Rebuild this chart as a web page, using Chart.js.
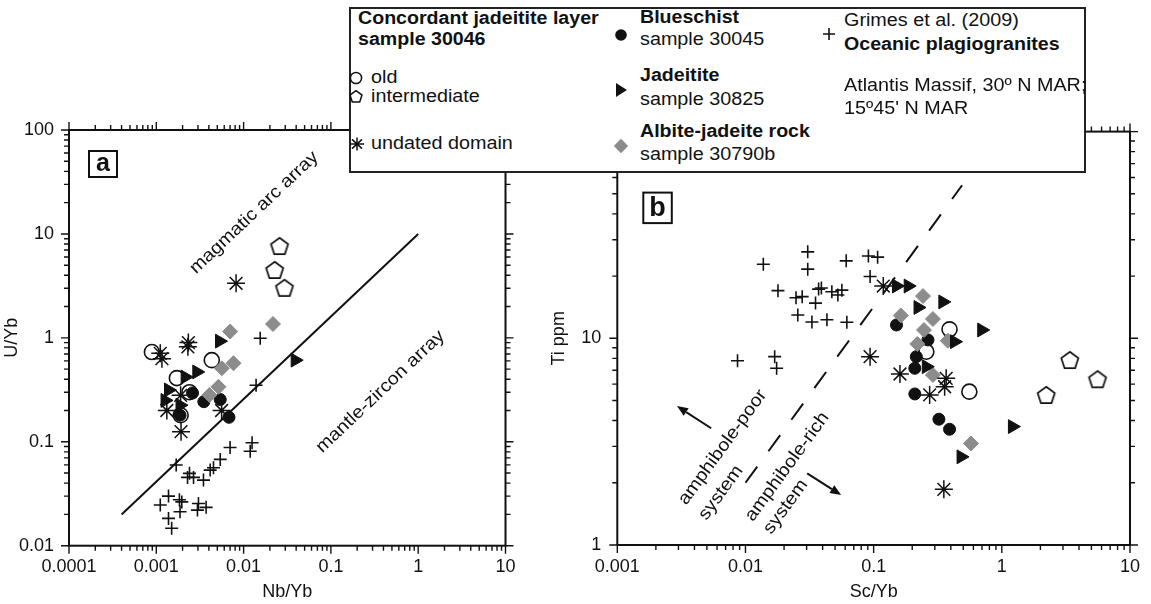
<!DOCTYPE html>
<html><head><meta charset="utf-8"><title>Zircon discrimination diagrams</title>
<script src="https://cdn.jsdelivr.net/npm/chart.js@4.4.1/dist/chart.umd.min.js"></script>
<style>
html,body{margin:0;padding:0;background:#fff;}
body{width:1151px;height:604px;position:relative;overflow:hidden;font-family:"Liberation Sans",Arial,Helvetica,sans-serif;color:#111;}
#wa{position:absolute;left:0;top:0;width:548px;height:604px;}
#wb{position:absolute;left:548px;top:0;width:603px;height:604px;}
canvas{display:block;}
#legend{position:absolute;left:349px;top:7px;width:737px;height:166px;border:2px solid #222;background:#fff;box-sizing:border-box;z-index:5;}
.t{position:absolute;white-space:nowrap;font-size:17.5px;line-height:1;transform:translateY(-50%) scaleX(1.13);transform-origin:0 50%;}
.b{font-weight:bold;transform:translateY(-50%) scaleX(1.12);}
.ic{position:absolute;overflow:visible;}
</style></head>
<body>
<div id="wa"><canvas id="ca" width="548" height="604"></canvas></div>
<div id="wb"><canvas id="cb" width="603" height="604"></canvas></div>
<div id="legend">
  <span class="t b" style="left:7px;top:9.5px">Concordant jadeitite layer</span>
  <span class="t b" style="left:7px;top:31px">sample 30046</span>
  <svg class="ic" style="left:-3px;top:61px" width="16" height="16" viewBox="-8 -8 16 16"><circle r="5.6" fill="none" stroke="#111" stroke-width="1.5"/></svg>
  <span class="t" style="left:19.5px;top:69px">old</span>
  <svg class="ic" style="left:-3px;top:80px" width="16" height="16" viewBox="-8 -8 16 16"><polygon points="0,-6.3 6,-1.9 3.7,5.1 -3.7,5.1 -6,-1.9" fill="none" stroke="#111" stroke-width="1.5"/></svg>
  <span class="t" style="left:19.5px;top:88px">intermediate</span>
  <svg class="ic" style="left:-2.5px;top:127px" width="16" height="16" viewBox="-8 -8 16 16"><path d="M0,-6.5V6.5M-7,0H7M-5,-4.6L5,4.6M-5,4.6L5,-4.6" stroke="#111" stroke-width="1.5"/></svg>
  <span class="t" style="left:19.5px;top:135px">undated domain</span>

  <svg class="ic" style="left:262px;top:18px" width="16" height="16" viewBox="-8 -8 16 16"><circle r="5.8" fill="#111"/></svg>
  <span class="t b" style="left:288.5px;top:8.5px">Blueschist</span>
  <span class="t" style="left:288.5px;top:30.5px">sample 30045</span>
  <svg class="ic" style="left:262px;top:73px" width="16" height="16" viewBox="-8 -8 16 16"><polygon points="-5,-7 6,0 -5,7" fill="#111"/></svg>
  <span class="t b" style="left:288.5px;top:67px">Jadeitite</span>
  <span class="t" style="left:288.5px;top:90.5px">sample 30825</span>
  <svg class="ic" style="left:262px;top:129px" width="16" height="16" viewBox="-8 -8 16 16"><polygon points="0,-7.2 7.2,0 0,7.2 -7.2,0" fill="#8c8c8c"/></svg>
  <span class="t b" style="left:288.5px;top:123px">Albite-jadeite rock</span>
  <span class="t" style="left:288.5px;top:146px">sample 30790b</span>

  <svg class="ic" style="left:469.5px;top:16.5px" width="16" height="16" viewBox="-8 -8 16 16"><path d="M0,-6V6M-6,0H6" stroke="#111" stroke-width="1.6"/></svg>
  <span class="t" style="left:492.5px;top:12px">Grimes et al. (2009)</span>
  <span class="t b" style="left:492.5px;top:36px">Oceanic plagiogranites</span>
  <span class="t" style="left:492.5px;top:77px">Atlantis Massif, 30º N MAR;</span>
  <span class="t" style="left:492.5px;top:99.5px">15º45' N MAR</span>
</div>
<script>
// ================= DATA =================
// Panel a : U/Yb vs Nb/Yb
const xTicksA = [0.0001, 0.001, 0.01, 0.1, 1, 10];
const xLabelsA = ['0.0001', '0.001', '0.01', '0.1', '1', '10'];
const yTicksA = [0.01, 0.1, 1, 10, 100];
const yLabelsA = ['0.01', '0.1', '1', '10', '100'];

const aOld = [[0.00089,0.73],[0.00432,0.61],[0.00172,0.41],[0.0019,0.18],[0.0024,0.30]];
const aInter = [[0.0258,7.65],[0.0227,4.5],[0.0294,3.03]];
const aUndated = [[0.00111,0.71],[0.00116,0.63],[0.00233,0.90],[0.0023,0.82],[0.0082,3.35],[0.00192,0.125],[0.00132,0.20],[0.0056,0.20],[0.0019,0.28]];
const aBlue = [[0.0068,0.172],[0.0035,0.243],[0.0054,0.255],[0.00187,0.18],[0.0026,0.295]];
const aJade = [[0.0053,0.93],[0.039,0.61],[0.00291,0.47],[0.00214,0.42],[0.00138,0.315],[0.00126,0.25],[0.00187,0.225]];
const aAlb = [[0.00701,1.15],[0.0217,1.36],[0.00766,0.57],[0.00564,0.51],[0.00515,0.338],[0.00406,0.282]];
const aPlagio = [[0.0155,0.99],[0.0139,0.35],[0.0070,0.088],[0.0125,0.098],[0.0119,0.081],[0.0054,0.0677],[0.00452,0.0562],[0.00414,0.0534],[0.00169,0.0597],[0.0024,0.0497],[0.00228,0.0454],[0.00267,0.0454],[0.00347,0.0428],[0.00138,0.030],[0.00111,0.0246],[0.00184,0.0277],[0.00196,0.0264],[0.00187,0.0212],[0.00304,0.0255],[0.00372,0.0234],[0.00296,0.022],[0.00138,0.0183],[0.0015,0.0147]];
const aLine = [[0.0004,0.02],[1,10]];
const aNotes = [{text:'magmatic arc array', at:[0.01325,16.0]}, {text:'mantle-zircon array', at:[0.369,0.303]}];

// Panel b : Ti ppm vs Sc/Yb
const xTicksB = [0.001, 0.01, 0.1, 1, 10];
const xLabelsB = ['0.001', '0.01', '0.1', '1', '10'];
const yTicksB = [1, 10, 100];
const yLabelsB = ['1', '10', '100'];

const bOld = [[0.558,5.52],[0.391,11.05],[0.2576,8.61]];
const bInter = [[3.39,7.85],[5.58,6.34],[2.22,5.32]];
const bUndated = [[0.0938,8.15],[0.1189,17.9],[0.1604,6.72],[0.2735,5.32],[0.368,6.4],[0.358,5.83],[0.353,1.86]];
const bBlue = [[0.1507,11.6],[0.2095,7.16],[0.2095,5.38],[0.323,4.06],[0.391,3.63],[0.2153,8.15],[0.2655,9.82]];
const bJade = [[0.1507,17.9],[0.186,17.9],[0.222,14.1],[0.3467,15.0],[0.4276,9.63],[0.697,10.97],[0.2576,7.29],[1.21,3.74],[0.481,2.67]];
const bAlb = [[0.2427,16.0],[0.163,12.9],[0.29,12.4],[0.247,10.97],[0.2193,9.39],[0.29,6.65],[0.575,3.10],[0.379,9.73]];
const bPlagio = [[0.01378,22.8],[0.0306,26.2],[0.0306,21.6],[0.0611,23.7],[0.091,25.0],[0.1074,24.7],[0.0938,19.9],[0.01793,17.0],[0.0248,15.7],[0.0277,15.9],[0.0352,14.8],[0.0372,17.3],[0.0391,17.5],[0.0472,16.8],[0.0526,16.2],[0.0565,17.1],[0.0256,12.97],[0.033,12.0],[0.0432,12.3],[0.0618,11.95],[0.00867,7.79],[0.0169,8.15],[0.0175,7.16]];
const bLine = [[0.01,2],[0.49,55]];
const bArrows = [[[0.0054,3.67],[0.00292,4.70]], [[0.0303,2.22],[0.0558,1.746]]];
const bNotes = [{text:'amphibole-poor', at:[0.00664,2.97]}, {text:'system', at:[0.00644,1.79]},
                {text:'amphibole-rich', at:[0.0212,2.39]}, {text:'system', at:[0.0206,1.53]}];

// ================= DRAWING =================
const INK = '#111';
const GREY = '#8c8c8c';
const FONT = '"Liberation Sans", Arial, Helvetica, sans-serif';
Chart.defaults.font.family = FONT;
Chart.defaults.font.size = 18;
Chart.defaults.color = INK;

const toXY = arr => arr.map(p => ({x: p[0], y: p[1]}));

function pentagonImage() {
  const c = document.createElement('canvas');
  c.width = 22; c.height = 22;
  const g = c.getContext('2d');
  g.strokeStyle = INK; g.lineWidth = 1.7;
  g.beginPath();
  for (let i = 0; i < 5; i++) {
    const a = -Math.PI / 2 + i * 2 * Math.PI / 5;
    const x = 11 + 9 * Math.cos(a), y = 11.8 + 9 * Math.sin(a);
    if (i === 0) g.moveTo(x, y); else g.lineTo(x, y);
  }
  g.closePath(); g.stroke();
  return c;
}
const PENT = pentagonImage();

function markMarks(min, max) {
  const out = [];
  const e0 = Math.round(Math.log10(min)), e1 = Math.round(Math.log10(max));
  for (let e = e0; e < e1; e++) {
    for (let m = 1; m <= 9; m++) out.push({v: m * Math.pow(10, e), major: m === 1});
  }
  out.push({v: max, major: true});
  return out;
}

const framePlugin = {
  id: 'frame',
  afterDraw(chart) {
    const {ctx, chartArea: a, scales: {x, y}} = chart;
    ctx.save();
    ctx.strokeStyle = INK;
    ctx.lineWidth = 1.4;
    ctx.beginPath();
    for (const t of markMarks(x.min, x.max)) {
      const p = x.getPixelForValue(t.v), L = t.major ? 8 : 5;
      ctx.moveTo(p, a.bottom); ctx.lineTo(p, a.bottom + L);
      ctx.moveTo(p, a.top); ctx.lineTo(p, a.top - L);
    }
    for (const t of markMarks(y.min, y.max)) {
      const p = y.getPixelForValue(t.v), L = t.major ? 8 : 5;
      ctx.moveTo(a.left - L, p); ctx.lineTo(a.left, p);
      ctx.moveTo(a.right, p); ctx.lineTo(a.right + L, p);
    }
    ctx.stroke();
    ctx.lineWidth = 2;
    ctx.strokeRect(a.left, a.top, a.right - a.left, a.bottom - a.top);
    ctx.restore();
  }
};

const notesPlugin = {
  id: 'notes',
  afterDatasetsDraw(chart, args, o) {
    const {ctx, chartArea: a, scales: {x, y}} = chart;
    const px = p => [x.getPixelForValue(p[0]), y.getPixelForValue(p[1])];
    ctx.save();
    ctx.fillStyle = INK; ctx.strokeStyle = INK;
    ctx.font = '18px ' + FONT;
    ctx.textAlign = 'center'; ctx.textBaseline = 'middle';
    const [d0x, d0y] = px(o.dir[0]), [d1x, d1y] = px(o.dir[1]);
    const ang = Math.atan2(d1y - d0y, d1x - d0x);
    for (const t of o.texts) {
      const [cx, cy] = px(t.at);
      ctx.save(); ctx.translate(cx, cy); ctx.rotate(ang); ctx.scale(1.1, 1); ctx.fillText(t.text, 0, 0); ctx.restore();
    }
    ctx.lineWidth = 2;
    for (const ar of (o.arrows || [])) {
      const [tx, ty] = px(ar[0]), [hx, hy] = px(ar[1]);
      const an = Math.atan2(hy - ty, hx - tx);
      const bx = hx - 11 * Math.cos(an), by = hy - 11 * Math.sin(an);
      ctx.beginPath(); ctx.moveTo(tx, ty); ctx.lineTo(bx, by); ctx.stroke();
      ctx.beginPath();
      ctx.moveTo(hx, hy);
      ctx.lineTo(bx + 4.5 * Math.sin(an), by - 4.5 * Math.cos(an));
      ctx.lineTo(bx - 4.5 * Math.sin(an), by + 4.5 * Math.cos(an));
      ctx.closePath(); ctx.fill();
    }
    const g = o.tag;
    const bx = a.left + g.dx, by = a.top + g.dy;
    ctx.lineWidth = 2;
    ctx.fillStyle = '#fff';
    ctx.fillRect(bx, by, g.w, g.h);
    ctx.strokeRect(bx, by, g.w, g.h);
    ctx.fillStyle = INK;
    ctx.font = 'bold ' + g.size + 'px ' + FONT;
    ctx.textBaseline = 'alphabetic';
    ctx.fillText(g.text, bx + g.w / 2, by + g.h - g.base);
    ctx.restore();
  }
};

function sets(d) {
  return [
    {label: 'intermediate', data: toXY(d.inter), pointStyle: PENT, pointRadius: 9},
    {label: 'undated domain', data: toXY(d.undated), pointStyle: 'star', pointRadius: 9, borderColor: INK, borderWidth: 1.5},
    {label: 'Jadeitite', data: toXY(d.jade), pointStyle: 'triangle', rotation: 90, pointRadius: 8, backgroundColor: INK, borderColor: INK, borderWidth: 1},
    {label: 'Albite-jadeite rock', data: toXY(d.alb), pointStyle: 'rectRot', pointRadius: 7.5, backgroundColor: GREY, borderColor: GREY, borderWidth: 1},
    {label: 'old', data: toXY(d.old), pointStyle: 'circle', pointRadius: 7.5, backgroundColor: 'rgba(0,0,0,0)', borderColor: INK, borderWidth: 1.6},
    {label: 'Blueschist', data: toXY(d.blue), pointStyle: 'circle', pointRadius: 6, backgroundColor: INK, borderColor: INK, borderWidth: 1},
    {label: 'Oceanic plagiogranites', data: toXY(d.plagio), pointStyle: 'cross', pointRadius: 6.5, borderColor: INK, borderWidth: 1.6},
    {label: 'array', data: toXY(d.line), showLine: true, pointRadius: 0, borderColor: INK, borderWidth: 2, borderDash: d.dash || [], fill: false}
  ];
}

function makeChart(id, d) {
  const setTicks = (vals) => (s) => { s.ticks = vals.map(v => ({value: v})); };
  return new Chart(document.getElementById(id), {
    type: 'scatter',
    data: {datasets: sets(d)},
    options: {
      responsive: false, animation: false, devicePixelRatio: 1,
      events: [],
      layout: {padding: {top: d.top, right: d.right, left: 0, bottom: 0}},
      plugins: {legend: {display: false}, tooltip: {enabled: false},
                notes: {texts: d.notes, dir: d.line, arrows: d.arrows, tag: d.tag}},
      scales: {
        x: {type: 'logarithmic', position: 'bottom', min: d.xTicks[0], max: d.xTicks[d.xTicks.length - 1],
            afterBuildTicks: setTicks(d.xTicks),
            afterFit: s => { s.height = d.bottom; },
            grid: {display: false, drawTicks: false}, border: {display: false},
            ticks: {callback: (v, i) => d.xLabels[i], autoSkip: false, maxRotation: 0, padding: 11, font: {size: 18}},
            title: {display: true, text: d.xTitle, font: {size: 18}, padding: {top: 0, bottom: 1}}},
        y: {type: 'logarithmic', position: 'left', min: d.yTicks[0], max: d.yTicks[d.yTicks.length - 1],
            afterBuildTicks: setTicks(d.yTicks),
            afterFit: s => { s.width = d.left; },
            grid: {display: false, drawTicks: false}, border: {display: false},
            ticks: {callback: (v, i) => d.yLabels[i], autoSkip: false, padding: d.ypad, font: {size: 18}},
            title: {display: true, text: d.yTitle, font: {size: 18}, padding: {top: d.ytpad, bottom: 0}}}
      }
    },
    plugins: [framePlugin, notesPlugin]
  });
}

makeChart('ca', {
  inter: aInter, undated: aUndated, jade: aJade, alb: aAlb, old: aOld, blue: aBlue, plagio: aPlagio, line: aLine,
  xTicks: xTicksA, xLabels: xLabelsA, yTicks: yTicksA, yLabels: yLabelsA,
  xTitle: 'Nb/Yb', yTitle: 'U/Yb', notes: aNotes, arrows: [],
  tag: {text: 'a', dx: 20, dy: 21, w: 28, h: 26, size: 25, base: 6},
  top: 130, right: 42.5, left: 69, bottom: 58.3, ypad: 15, ytpad: 1
});
makeChart('cb', {
  inter: bInter, undated: bUndated, jade: bJade, alb: bAlb, old: bOld, blue: bBlue, plagio: bPlagio, line: bLine, dash: [20, 19],
  xTicks: xTicksB, xLabels: xLabelsB, yTicks: yTicksB, yLabels: yLabelsB,
  xTitle: 'Sc/Yb', yTitle: 'Ti ppm', notes: bNotes, arrows: bArrows,
  tag: {text: 'b', dx: 26, dy: 61, w: 28.5, h: 30.5, size: 27, base: 7},
  top: 131.6, right: 17.7, left: 69.3, bottom: 59, ypad: 16, ytpad: 0
});
</script>
</body></html>
